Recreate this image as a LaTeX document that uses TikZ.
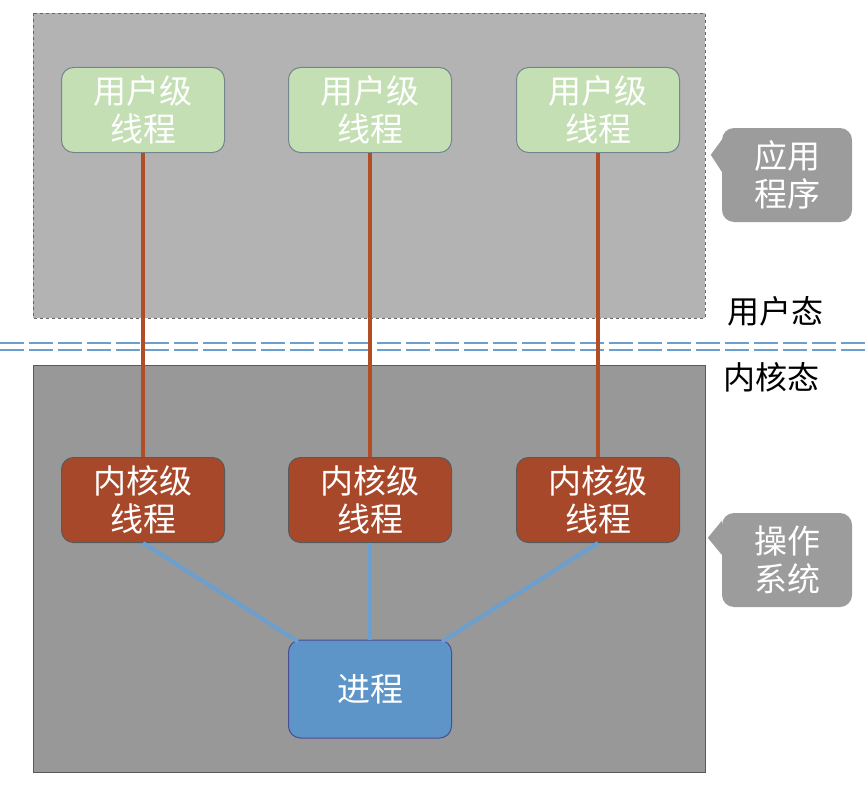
\documentclass[tikz,border=0pt]{standalone}
\usepackage{fontspec}
\setmainfont{Noto Sans CJK SC}
\definecolor{hautgris}{HTML}{B3B3B3}
\definecolor{basgris}{HTML}{989898}
\definecolor{vertclair}{HTML}{C5DFB5}
\definecolor{brique}{HTML}{A8482A}
\definecolor{bleuproc}{HTML}{5E95C9}
\definecolor{bleuligne}{HTML}{6A9FD0}
\definecolor{bulle}{HTML}{9C9C9C}
\tikzset{
  fil/.style={rounded corners=12pt, minimum width=163pt, minimum height=85pt,
    align=center, text=white, font=\fontsize{33}{38}\selectfont, draw, line width=1pt},
  utilisateur/.style={fil, fill=vertclair, draw=black!50!cyan!40!gray},
  noyau/.style={fil, fill=brique, draw=gray!70!black},
  processus/.style={fil, fill=bleuproc, draw=blue!40!black!70, minimum height=98pt},
  bullebox/.style={rounded corners=12pt, fill=bulle, minimum width=130pt, minimum height=94pt,
    align=center, text=white, font=\fontsize{33}{38}\selectfont},
  etat/.style={font=\fontsize{32}{38}\selectfont, text=black},
  lien/.style={line width=4pt, draw=brique!90!orange},
  lienbleu/.style={line width=4pt, draw=bleuligne}
}
\begin{document}
\begin{tikzpicture}[x=1pt, y=-1pt]
    \useasboundingbox[fill=white] (0,0) rectangle (865,792);
    % Zones
    \draw[fill=hautgris, draw=gray!80!black, dashed, line width=0.8pt] (33,13) rectangle (705,318);
    \draw[fill=basgris, draw=gray!70!black, line width=1pt] (33,365) rectangle (705,772);
    % Frontiere
    \draw[bleuligne, line width=2.5pt, dash pattern=on 24pt off 5pt] (0,343) -- (865,343);
    \draw[bleuligne, line width=2.5pt, dash pattern=on 24pt off 5pt] (0,350) -- (865,350);
    % Threads
    \node[utilisateur] (u1) at (143,110) {用户级\\线程};
    \node[utilisateur] (u2) at (370,110) {用户级\\线程};
    \node[utilisateur] (u3) at (598,110) {用户级\\线程};
    \node[noyau] (k1) at (143,500) {内核级\\线程};
    \node[noyau] (k2) at (370,500) {内核级\\线程};
    \node[noyau] (k3) at (598,500) {内核级\\线程};
    \node[processus] (p) at (370,689) {进程};
    % Liens
    \foreach \i in {1,2,3} {
        \draw[lien] (u\i.south) -- (k\i.north);
    }
    \draw[lienbleu] (k1.south) -- ([xshift=10pt,yshift=-2pt]p.north west);
    \draw[lienbleu] (k2.south) -- (p.north);
    \draw[lienbleu] (k3.south) -- ([xshift=-10pt,yshift=-2pt]p.north east);
    % Bulles
    \node[bullebox] (app) at (787,175) {应用\\程序};
    \fill[bulle] ([yshift=-12pt]app.north west) -- ++(-11,15) -- ([yshift=-44pt]app.north west) -- cycle;
    \node[bullebox] (os) at (787,560) {操作\\系统};
    \fill[bulle] ([yshift=-8pt]os.north west) -- ++(-14,17) -- ([yshift=-42pt]os.north west) -- cycle;
    % Etats
    \node[etat] (us) at (775,311) {用户态};
    \node[etat] (ks) at (771,377) {内核态};
\end{tikzpicture}
\end{document}
